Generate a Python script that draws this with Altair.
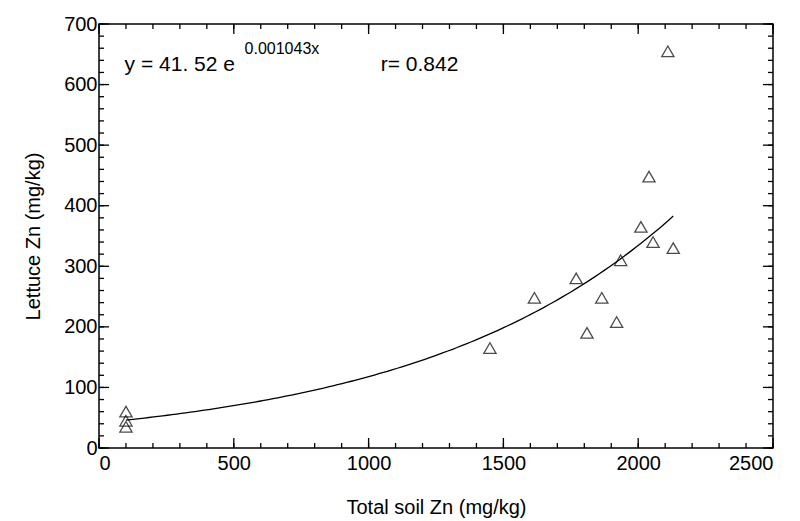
import altair as alt
import numpy as np
import pandas as pd

soil_zn = [100, 100, 100, 1450, 1615, 1770, 1810, 1865, 1920, 1935, 2010, 2040, 2055, 2110, 2130]
lettuce_zn = [60, 45, 35, 165, 248, 280, 190, 248, 208, 310, 365, 448, 340, 655, 330]

x_major = [0, 500, 1000, 1500, 2000, 2500]
x_minor = list(range(0, 2501, 100))
y_major = [0, 100, 200, 300, 400, 500, 600, 700]
y_minor = list(range(0, 701, 20))

W, H = 674, 424
font = "Liberation Sans"

pts = pd.DataFrame({"x": soil_zn, "y": lettuce_zn})
fx = np.linspace(100, 2130, 120)
fit = pd.DataFrame({"x": fx, "y": 41.52 * np.exp(0.001043 * fx)})

xs = alt.Scale(domain=[0, 2500], nice=False, zero=False)
ys = alt.Scale(domain=[0, 700], nice=False, zero=False)

x_axis = alt.Axis(values=x_major, format="d", ticks=False, domain=False, grid=False, labelFontSize=20,
                  labelFont=font, labelColor="#000", labelPadding=5, titleFont=font,
                  titleFontSize=20, titleFontWeight="normal", titleColor="#000", titlePadding=24)
y_axis = alt.Axis(values=y_major, format="d", ticks=False, domain=False, grid=False, labelFontSize=20,
                  labelFont=font, labelColor="#000", labelPadding=2, titleFont=font,
                  titleFontSize=20, titleFontWeight="normal", titleColor="#000", titlePadding=20)

points = alt.Chart(pts).mark_point(shape="triangle-up", size=150, color="#000", strokeWidth=1.3).encode(
    x=alt.X("x:Q", scale=xs, axis=x_axis, title="Total soil Zn (mg/kg)"),
    y=alt.Y("y:Q", scale=ys, axis=y_axis, title="Lettuce Zn (mg/kg)"),
)
curve = alt.Chart(fit).mark_line(color="#000", strokeWidth=1.3).encode(
    x=alt.X("x:Q", scale=xs), y=alt.Y("y:Q", scale=ys)
)


def xticks(vals, length):
    d = pd.DataFrame({"x": vals})
    bottom = alt.Chart(d).mark_rule(color="#000", strokeWidth=1.3).encode(
        x=alt.X("x:Q", scale=xs), y=alt.value(H), y2=alt.value(H - length))
    top = alt.Chart(d).mark_rule(color="#000", strokeWidth=1.3).encode(
        x=alt.X("x:Q", scale=xs), y=alt.value(0), y2=alt.value(length))
    return bottom + top


def yticks(vals, length):
    d = pd.DataFrame({"y": vals})
    left = alt.Chart(d).mark_rule(color="#000", strokeWidth=1.3).encode(
        y=alt.Y("y:Q", scale=ys), x=alt.value(0), x2=alt.value(length))
    right = alt.Chart(d).mark_rule(color="#000", strokeWidth=1.3).encode(
        y=alt.Y("y:Q", scale=ys), x=alt.value(W), x2=alt.value(W - length))
    return left + right


labels = pd.DataFrame({"x": [95, 1045], "y": [633, 633], "t": ["y = 41. 52 e", "r= 0.842"]})
eq = alt.Chart(labels).mark_text(align="left", baseline="middle", fontSize=21, font=font, color="#000").encode(
    x=alt.X("x:Q", scale=xs), y=alt.Y("y:Q", scale=ys), text="t:N")
sup = pd.DataFrame({"x": [540], "y": [658], "t": ["0.001043x"]})
eq_sup = alt.Chart(sup).mark_text(align="left", baseline="middle", fontSize=16, font=font, color="#000").encode(
    x=alt.X("x:Q", scale=xs), y=alt.Y("y:Q", scale=ys), text="t:N")

chart = alt.layer(
    xticks(x_minor, 5), xticks(x_major, 10), yticks(y_minor, 5), yticks(y_major, 10),
    curve, points, eq, eq_sup,
).properties(
    width=W, height=H, background="white",
    autosize=alt.AutoSizeParams(type="none"),
    padding={"left": 91, "top": 16, "right": 17, "bottom": 73},
).configure_view(stroke="#000", strokeWidth=1.5)

chart.save("out.html", embed_options={"renderer": "svg", "actions": False})
